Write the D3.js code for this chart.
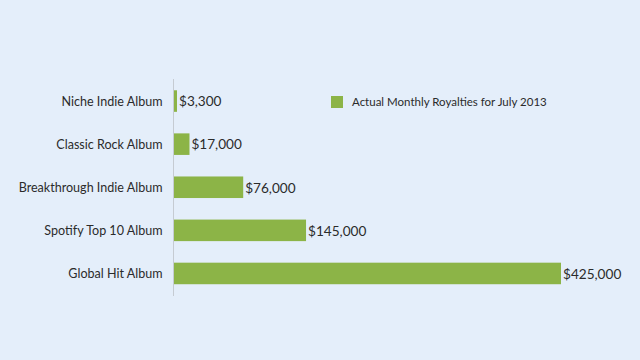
<!DOCTYPE html>
<html>
<head>
<meta charset="utf-8">
<script src="https://cdn.jsdelivr.net/npm/d3@7"></script>
<style>
html,body{margin:0;padding:0;background:#e4eefa;}
svg{display:block;}
</style>
</head>
<body>
<svg id="chart" width="640" height="360"></svg>
<script>
const categories = ["Niche Indie Album","Classic Rock Album","Breakthrough Indie Album","Spotify Top 10 Album","Global Hit Album"];
const values = [3300, 17000, 76000, 145000, 425000];
const labels = ["$3,300","$17,000","$76,000","$145,000","$425,000"];
const seriesName = "Actual Monthly Royalties for July 2013";

const svg = d3.select("#chart");
svg.append("rect").attr("width",640).attr("height",360).attr("fill","#e4eefa");

const x = d3.scaleLinear().domain([0, 425000]).range([174, 561]);
const y = d3.scaleBand().domain(categories).range([79.5, 295]).paddingInner(0.5).paddingOuter(0.25);

svg.selectAll("rect.bar").data(categories).join("rect")
  .attr("class","bar")
  .attr("x", x(0))
  .attr("y", d => y(d))
  .attr("width", (d,i) => x(values[i]) - x(0))
  .attr("height", y.bandwidth())
  .attr("fill", "#8cb447");

// axis line
svg.append("line").attr("x1",173.5).attr("x2",173.5).attr("y1",79).attr("y2",296)
  .attr("stroke","#c5cbd2").attr("stroke-width",1);

const yAxis = d3.axisLeft(y).tickSize(0).tickPadding(0);
const g = svg.append("g").attr("transform","translate(162.5,0.5)").call(yAxis);
g.select(".domain").remove();
g.selectAll("text").attr("font-family","Lato, 'Open Sans', sans-serif").attr("font-size","12.55px").attr("fill","#2b2b2b");

svg.selectAll("text.val").data(categories).join("text")
  .attr("class","val")
  .attr("x", (d,i) => x(values[i]) + 2)
  .attr("y", d => y(d) + y.bandwidth()/2 + 0.5)
  .attr("dy","0.35em")
  .attr("font-family","Lato, 'Open Sans', sans-serif")
  .attr("font-size","13.6px")
  .attr("fill","#2b2b2b")
  .text((d,i) => labels[i]);

// legend
svg.append("rect").attr("x",331).attr("y",96).attr("width",12).attr("height",12).attr("fill","#8cb447");
svg.append("text").attr("x",352).attr("y",102).attr("dy","0.35em")
  .attr("font-family","Lato, 'Open Sans', sans-serif").attr("font-size","11.5px").attr("fill","#2b2b2b")
  .text(seriesName);
</script>
</body>
</html>
